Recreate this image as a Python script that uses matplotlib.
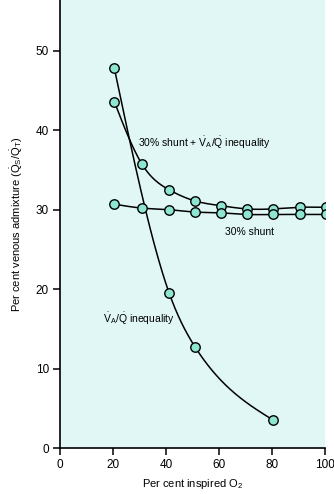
import numpy as np
import matplotlib
matplotlib.use("Agg")
import matplotlib.pyplot as plt
from matplotlib import font_manager

# data
o2_vq = [20.5, 41.2, 51.0, 80.5]
vq_ineq = [47.8, 19.5, 12.7, 3.5]

o2 = [20.5, 31.0, 41.2, 51.0, 60.8, 70.5, 80.3, 90.5, 100.3]
shunt_vq = [43.6, 35.7, 32.5, 31.1, 30.5, 30.1, 30.1, 30.3, 30.3]
shunt = [30.7, 30.2, 30.0, 29.7, 29.6, 29.4, 29.4, 29.4, 29.4]

names = [f.name for f in font_manager.fontManager.ttflist]
fam = 'Liberation Sans Narrow' if 'Liberation Sans Narrow' in names else 'Liberation Sans'
plt.rcParams['font.family'] = [fam, 'DejaVu Sans']
plt.rcParams['mathtext.fontset'] = 'custom'
plt.rcParams['mathtext.rm'] = fam
plt.rcParams['mathtext.it'] = fam
plt.rcParams['mathtext.bf'] = fam


def smooth(x, y, n=200):
    # natural cubic spline, only used to draw the connecting line
    x = np.asarray(x, float)
    y = np.asarray(y, float)
    k = len(x)
    h = np.diff(x)
    A = np.zeros((k, k))
    b = np.zeros(k)
    A[0, 0] = A[-1, -1] = 1
    for i in range(1, k - 1):
        A[i, i - 1] = h[i - 1]
        A[i, i] = 2 * (h[i - 1] + h[i])
        A[i, i + 1] = h[i]
        b[i] = 6 * ((y[i + 1] - y[i]) / h[i] - (y[i] - y[i - 1]) / h[i - 1])
    M = np.linalg.solve(A, b)
    xs = np.linspace(x[0], x[-1], n)
    idx = np.clip(np.searchsorted(x, xs) - 1, 0, k - 2)
    hi = h[idx]
    a = x[idx + 1] - xs
    c = xs - x[idx]
    ys = (M[idx] * a**3 / (6 * hi) + M[idx + 1] * c**3 / (6 * hi)
          + (y[idx] / hi - M[idx] * hi / 6) * a
          + (y[idx + 1] / hi - M[idx + 1] * hi / 6) * c)
    return xs, ys


fig = plt.figure(figsize=(3.34, 4.94), dpi=100)
ax = fig.add_axes([60 / 334, 1 - 448 / 494, 265 / 334, 448 / 494])
ax.set_facecolor('#e0f7f5')

mk = dict(marker='o', ms=6.8, mfc='#8ee6d2', mec='black', mew=1.0, ls='none', zorder=3)
for xx, yy in [(o2_vq, vq_ineq), (o2, shunt_vq), (o2, shunt)]:
    sx, sy = smooth(xx, yy)
    ax.plot(sx, sy, color='black', lw=1.1, zorder=2)
    ax.plot(xx, yy, **mk)

ax.set_xlim(0, 100)
ax.set_ylim(0, 56.4)
ax.set_xticks(range(0, 101, 20))
ax.set_yticks(range(0, 51, 10))
ax.spines['top'].set_visible(False)
ax.spines['right'].set_visible(False)
ax.spines['left'].set_linewidth(1.2)
ax.spines['bottom'].set_linewidth(1.2)
ax.tick_params(direction='out', length=5, width=1.1, labelsize=8.5, pad=3)

ax.set_xlabel(r'Per cent inspired O$_2$', fontsize=8, labelpad=4)
ax.set_ylabel(r'Per cent venous admixture ($\dot{\mathrm{Q}}_S/\dot{\mathrm{Q}}_T$)',
              fontsize=8, labelpad=8)

ax.text(29.5, 38.4, r'30% shunt + $\dot{\mathrm{V}}_A/\dot{\mathrm{Q}}$ inequality',
        fontsize=7.5, va='center', ha='left')
ax.text(71.5, 27.2, '30% shunt', fontsize=7.5, va='center', ha='center')
ax.text(16.3, 16.2, r'$\dot{\mathrm{V}}_A/\dot{\mathrm{Q}}$ inequality',
        fontsize=7.5, va='center', ha='left')

fig.savefig('out.png', dpi=100)
